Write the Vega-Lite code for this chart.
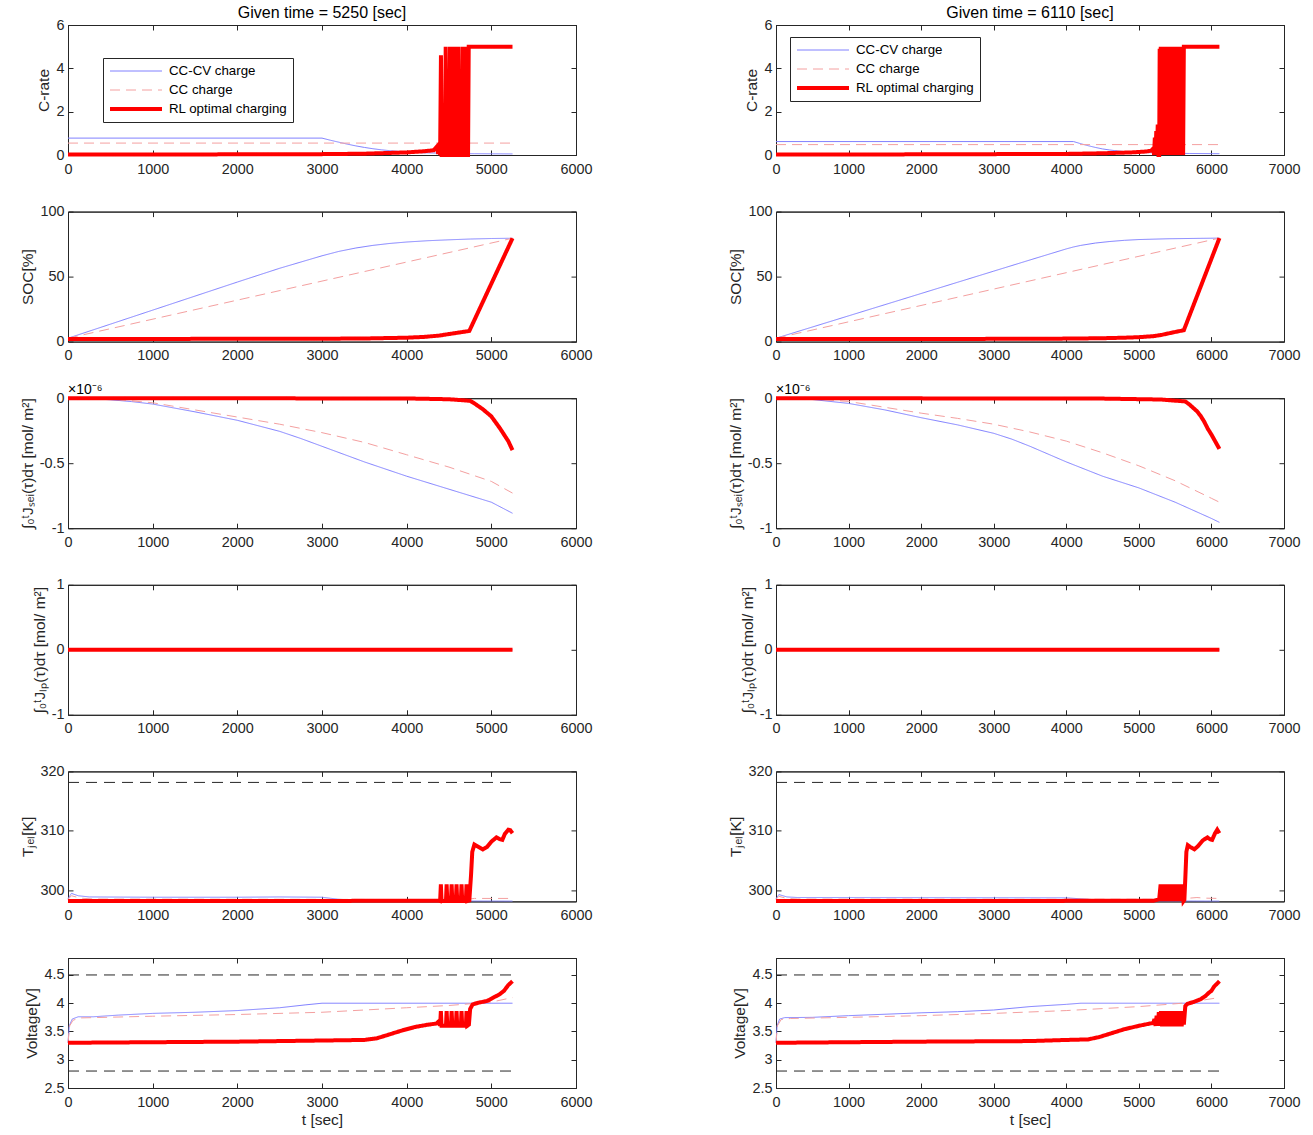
{
"$schema": "https://vega.github.io/schema/vega-lite/v6.json",
"padding": {"left": 19, "top": 4, "right": 5, "bottom": 5},
"background": "white",
"columns": 2,
"spacing": {"row": 56.6, "column": 200},
"bounds": "flush",
"datasets": {
"L_C": [
{"s":"cv","t":0,"v":0.78},{"s":"cv","t":3000,"v":0.78},{"s":"cv","t":3100,"v":0.68},{"s":"cv","t":3200,"v":0.59},{"s":"cv","t":3300,"v":0.5},{"s":"cv","t":3400,"v":0.42},{"s":"cv","t":3500,"v":0.35},{"s":"cv","t":3600,"v":0.29},{"s":"cv","t":3700,"v":0.24},{"s":"cv","t":3800,"v":0.2},{"s":"cv","t":3900,"v":0.17},{"s":"cv","t":4000,"v":0.14},{"s":"cv","t":4200,"v":0.1},{"s":"cv","t":4500,"v":0.075},{"s":"cv","t":4800,"v":0.06},{"s":"cv","t":5250,"v":0.05},
{"s":"cc","t":0,"v":0.55},{"s":"cc","t":5250,"v":0.55},
{"s":"rl","t":0,"v":0.02},{"s":"rl","t":2000,"v":0.03},{"s":"rl","t":3000,"v":0.04},{"s":"rl","t":3500,"v":0.06},{"s":"rl","t":4000,"v":0.12},{"s":"rl","t":4200,"v":0.17},{"s":"rl","t":4320,"v":0.22},{"s":"rl","t":4360,"v":0.4},{"s":"rl","t":4372,"v":0.05},{"s":"rl","t":4384,"v":0.35},{"s":"rl","t":4395,"v":0},{"s":"rl","t":4405,"v":4.6},{"s":"rl","t":4413,"v":0},{"s":"rl","t":4452,"v":0},{"s":"rl","t":4461,"v":5},{"s":"rl","t":4469,"v":0},{"s":"rl","t":4503,"v":0},{"s":"rl","t":4512,"v":5},{"s":"rl","t":4520,"v":0},{"s":"rl","t":4550,"v":0},{"s":"rl","t":4559,"v":5},{"s":"rl","t":4567,"v":0},{"s":"rl","t":4597,"v":0},{"s":"rl","t":4606,"v":5},{"s":"rl","t":4614,"v":0},{"s":"rl","t":4648,"v":0},{"s":"rl","t":4657,"v":5},{"s":"rl","t":4665,"v":0},{"s":"rl","t":4692,"v":0},{"s":"rl","t":4701,"v":5},{"s":"rl","t":4709,"v":0},{"s":"rl","t":4725,"v":0},{"s":"rl","t":4733,"v":5},{"s":"rl","t":5250,"v":5}
],
"R_C": [
{"s":"cv","t":0,"v":0.62},{"s":"cv","t":4100,"v":0.62},{"s":"cv","t":4200,"v":0.52},{"s":"cv","t":4300,"v":0.43},{"s":"cv","t":4400,"v":0.35},{"s":"cv","t":4500,"v":0.28},{"s":"cv","t":4600,"v":0.23},{"s":"cv","t":4700,"v":0.19},{"s":"cv","t":4800,"v":0.16},{"s":"cv","t":5000,"v":0.12},{"s":"cv","t":5300,"v":0.09},{"s":"cv","t":5700,"v":0.07},{"s":"cv","t":6110,"v":0.06},
{"s":"cc","t":0,"v":0.48},{"s":"cc","t":6110,"v":0.48},
{"s":"rl","t":0,"v":0.02},{"s":"rl","t":2000,"v":0.03},{"s":"rl","t":4000,"v":0.05},{"s":"rl","t":4500,"v":0.08},{"s":"rl","t":4900,"v":0.12},{"s":"rl","t":5100,"v":0.16},{"s":"rl","t":5170,"v":0.2},{"s":"rl","t":5200,"v":0.3},{"s":"rl","t":5210,"v":0},{"s":"rl","t":5220,"v":0.8},{"s":"rl","t":5230,"v":0},{"s":"rl","t":5240,"v":1.1},{"s":"rl","t":5250,"v":0},{"s":"rl","t":5260,"v":1.4},{"s":"rl","t":5270,"v":0},
{"s":"rl","t":5280,"v":0},{"s":"rl","t":5287,"v":4.9},{"s":"rl","t":5295,"v":0},{"s":"rl","t":5302,"v":5},{"s":"rl","t":5310,"v":0},{"s":"rl","t":5317,"v":5},{"s":"rl","t":5325,"v":0},{"s":"rl","t":5332,"v":5},{"s":"rl","t":5340,"v":0},{"s":"rl","t":5347,"v":5},{"s":"rl","t":5355,"v":0},{"s":"rl","t":5362,"v":5},{"s":"rl","t":5370,"v":0},{"s":"rl","t":5377,"v":5},{"s":"rl","t":5385,"v":0},{"s":"rl","t":5392,"v":5},{"s":"rl","t":5400,"v":0},{"s":"rl","t":5407,"v":5},{"s":"rl","t":5415,"v":0},{"s":"rl","t":5422,"v":5},{"s":"rl","t":5430,"v":0},{"s":"rl","t":5437,"v":5},{"s":"rl","t":5445,"v":0},{"s":"rl","t":5452,"v":5},{"s":"rl","t":5460,"v":0},{"s":"rl","t":5467,"v":5},{"s":"rl","t":5475,"v":0},{"s":"rl","t":5482,"v":5},{"s":"rl","t":5490,"v":0},{"s":"rl","t":5497,"v":5},{"s":"rl","t":5505,"v":0},{"s":"rl","t":5512,"v":5},{"s":"rl","t":5520,"v":0},{"s":"rl","t":5527,"v":5},{"s":"rl","t":5535,"v":0},{"s":"rl","t":5542,"v":5},{"s":"rl","t":5550,"v":0},{"s":"rl","t":5557,"v":5},{"s":"rl","t":5565,"v":0},{"s":"rl","t":5572,"v":5},{"s":"rl","t":5580,"v":0},{"s":"rl","t":5587,"v":5},{"s":"rl","t":5595,"v":0},{"s":"rl","t":5602,"v":5},{"s":"rl","t":5610,"v":0},{"s":"rl","t":5620,"v":5},{"s":"rl","t":6110,"v":5}
],
"L_S": [
{"s":"cv","t":0,"v":2.6},{"s":"cv","t":500,"v":13.4},{"s":"cv","t":1000,"v":24.2},{"s":"cv","t":1500,"v":35},{"s":"cv","t":2000,"v":45.8},{"s":"cv","t":2500,"v":56.4},{"s":"cv","t":3000,"v":66},{"s":"cv","t":3200,"v":69.4},{"s":"cv","t":3400,"v":72},{"s":"cv","t":3600,"v":74},{"s":"cv","t":3800,"v":75.5},{"s":"cv","t":4000,"v":76.6},{"s":"cv","t":4250,"v":77.6},{"s":"cv","t":4500,"v":78.3},{"s":"cv","t":4750,"v":78.9},{"s":"cv","t":5000,"v":79.3},{"s":"cv","t":5250,"v":79.5},
{"s":"cc","t":0,"v":2.6},{"s":"cc","t":5250,"v":79.5},
{"s":"rl","t":0,"v":2},{"s":"rl","t":3000,"v":2.2},{"s":"rl","t":3500,"v":2.4},{"s":"rl","t":4000,"v":3},{"s":"rl","t":4200,"v":3.6},{"s":"rl","t":4380,"v":4.6},{"s":"rl","t":4500,"v":5.8},{"s":"rl","t":4600,"v":6.8},{"s":"rl","t":4740,"v":8.2},{"s":"rl","t":5250,"v":79.5}
],
"R_S": [
{"s":"cv","t":0,"v":2.6},{"s":"cv","t":500,"v":11.2},{"s":"cv","t":1000,"v":19.8},{"s":"cv","t":1500,"v":28.4},{"s":"cv","t":2000,"v":37},{"s":"cv","t":2500,"v":45.6},{"s":"cv","t":3000,"v":54.2},{"s":"cv","t":3500,"v":62.8},{"s":"cv","t":4000,"v":71.3},{"s":"cv","t":4100,"v":72.8},{"s":"cv","t":4200,"v":74},{"s":"cv","t":4400,"v":75.8},{"s":"cv","t":4600,"v":77},{"s":"cv","t":4800,"v":77.9},{"s":"cv","t":5000,"v":78.5},{"s":"cv","t":5400,"v":79.1},{"s":"cv","t":5800,"v":79.4},{"s":"cv","t":6110,"v":79.6},
{"s":"cc","t":0,"v":2.6},{"s":"cc","t":6110,"v":79.6},
{"s":"rl","t":0,"v":2},{"s":"rl","t":3000,"v":2.1},{"s":"rl","t":4000,"v":2.3},{"s":"rl","t":4500,"v":2.6},{"s":"rl","t":4800,"v":3},{"s":"rl","t":5000,"v":3.4},{"s":"rl","t":5200,"v":4.2},{"s":"rl","t":5300,"v":5},{"s":"rl","t":5450,"v":6.8},{"s":"rl","t":5620,"v":8.8},{"s":"rl","t":6110,"v":79.6}
],
"L_J": [
{"s":"cv","t":0,"v":0},{"s":"cv","t":250,"v":-0.003},{"s":"cv","t":500,"v":-0.012},{"s":"cv","t":750,"v":-0.026},{"s":"cv","t":1000,"v":-0.045},{"s":"cv","t":1500,"v":-0.105},{"s":"cv","t":2000,"v":-0.17},{"s":"cv","t":2500,"v":-0.255},{"s":"cv","t":2750,"v":-0.31},{"s":"cv","t":3000,"v":-0.37},{"s":"cv","t":3500,"v":-0.49},{"s":"cv","t":4000,"v":-0.6},{"s":"cv","t":4500,"v":-0.7},{"s":"cv","t":5000,"v":-0.8},{"s":"cv","t":5250,"v":-0.885},
{"s":"cc","t":0,"v":0},{"s":"cc","t":500,"v":-0.006},{"s":"cc","t":1000,"v":-0.035},{"s":"cc","t":1500,"v":-0.09},{"s":"cc","t":2000,"v":-0.145},{"s":"cc","t":2500,"v":-0.2},{"s":"cc","t":3000,"v":-0.265},{"s":"cc","t":3500,"v":-0.34},{"s":"cc","t":4000,"v":-0.435},{"s":"cc","t":4500,"v":-0.53},{"s":"cc","t":5000,"v":-0.64},{"s":"cc","t":5250,"v":-0.73},
{"s":"rl","t":0,"v":0},{"s":"rl","t":4000,"v":-0.002},{"s":"rl","t":4500,"v":-0.008},{"s":"rl","t":4750,"v":-0.02},{"s":"rl","t":4800,"v":-0.04},{"s":"rl","t":4900,"v":-0.085},{"s":"rl","t":5000,"v":-0.14},{"s":"rl","t":5100,"v":-0.23},{"s":"rl","t":5200,"v":-0.33},{"s":"rl","t":5250,"v":-0.4}
],
"R_J": [
{"s":"cv","t":0,"v":0},{"s":"cv","t":500,"v":-0.01},{"s":"cv","t":1000,"v":-0.04},{"s":"cv","t":1500,"v":-0.09},{"s":"cv","t":2000,"v":-0.15},{"s":"cv","t":2500,"v":-0.205},{"s":"cv","t":3000,"v":-0.27},{"s":"cv","t":3250,"v":-0.315},{"s":"cv","t":3500,"v":-0.37},{"s":"cv","t":4000,"v":-0.49},{"s":"cv","t":4500,"v":-0.6},{"s":"cv","t":5000,"v":-0.69},{"s":"cv","t":5500,"v":-0.8},{"s":"cv","t":6000,"v":-0.925},{"s":"cv","t":6110,"v":-0.955},
{"s":"cc","t":0,"v":0},{"s":"cc","t":500,"v":-0.005},{"s":"cc","t":1000,"v":-0.025},{"s":"cc","t":1500,"v":-0.07},{"s":"cc","t":2000,"v":-0.115},{"s":"cc","t":2500,"v":-0.155},{"s":"cc","t":3000,"v":-0.2},{"s":"cc","t":3500,"v":-0.26},{"s":"cc","t":4000,"v":-0.33},{"s":"cc","t":4500,"v":-0.42},{"s":"cc","t":5000,"v":-0.52},{"s":"cc","t":5500,"v":-0.635},{"s":"cc","t":6000,"v":-0.77},{"s":"cc","t":6110,"v":-0.8},
{"s":"rl","t":0,"v":0},{"s":"rl","t":4500,"v":-0.003},{"s":"rl","t":5300,"v":-0.01},{"s":"rl","t":5640,"v":-0.025},{"s":"rl","t":5700,"v":-0.05},{"s":"rl","t":5800,"v":-0.1},{"s":"rl","t":5850,"v":-0.135},{"s":"rl","t":5900,"v":-0.18},{"s":"rl","t":5950,"v":-0.235},{"s":"rl","t":6000,"v":-0.28},{"s":"rl","t":6050,"v":-0.33},{"s":"rl","t":6110,"v":-0.39}
],
"L_P": [
{"s":"cv","t":0,"v":0},{"s":"cv","t":5250,"v":0},{"s":"cc","t":0,"v":0},{"s":"cc","t":5250,"v":0},{"s":"rl","t":0,"v":0},{"s":"rl","t":5250,"v":0}
],
"R_P": [
{"s":"cv","t":0,"v":0},{"s":"cv","t":6110,"v":0},{"s":"cc","t":0,"v":0},{"s":"cc","t":6110,"v":0},{"s":"rl","t":0,"v":0},{"s":"rl","t":6110,"v":0}
],
"L_T": [
{"s":"cv","t":0,"v":298.6},{"s":"cv","t":40,"v":299.5},{"s":"cv","t":120,"v":299.1},{"s":"cv","t":250,"v":298.9},{"s":"cv","t":1000,"v":298.85},{"s":"cv","t":2000,"v":298.85},{"s":"cv","t":2500,"v":298.9},{"s":"cv","t":3000,"v":298.85},{"s":"cv","t":3200,"v":298.5},{"s":"cv","t":3500,"v":298.3},{"s":"cv","t":4000,"v":298.25},{"s":"cv","t":5250,"v":298.2},
{"s":"cc","t":0,"v":298.5},{"s":"cc","t":40,"v":299.1},{"s":"cc","t":150,"v":298.7},{"s":"cc","t":300,"v":298.55},{"s":"cc","t":3000,"v":298.5},{"s":"cc","t":4000,"v":298.45},{"s":"cc","t":4700,"v":298.5},{"s":"cc","t":4800,"v":298.65},{"s":"cc","t":5250,"v":298.65},
{"s":"rl","t":0,"v":298.2},{"s":"rl","t":4380,"v":298.25},{"s":"rl","t":4395,"v":298.2},{"s":"rl","t":4404,"v":301},{"s":"rl","t":4412,"v":298.2},{"s":"rl","t":4464,"v":298.2},{"s":"rl","t":4472,"v":301},{"s":"rl","t":4480,"v":298.2},{"s":"rl","t":4523,"v":298.2},{"s":"rl","t":4531,"v":301},{"s":"rl","t":4539,"v":298.2},{"s":"rl","t":4581,"v":298.2},{"s":"rl","t":4589,"v":301},{"s":"rl","t":4597,"v":298.2},{"s":"rl","t":4640,"v":298.2},{"s":"rl","t":4648,"v":301},{"s":"rl","t":4656,"v":298.2},{"s":"rl","t":4699,"v":298.2},{"s":"rl","t":4707,"v":301},{"s":"rl","t":4715,"v":298.2},{"s":"rl","t":4740,"v":298.3},{"s":"rl","t":4760,"v":302.5},{"s":"rl","t":4775,"v":306.5},{"s":"rl","t":4800,"v":307.7},{"s":"rl","t":4850,"v":307.3},{"s":"rl","t":4900,"v":306.9},{"s":"rl","t":4950,"v":307.3},{"s":"rl","t":5000,"v":308.2},{"s":"rl","t":5060,"v":308.9},{"s":"rl","t":5100,"v":308.6},{"s":"rl","t":5130,"v":308.5},{"s":"rl","t":5160,"v":309.5},{"s":"rl","t":5200,"v":310.2},{"s":"rl","t":5225,"v":310.1},{"s":"rl","t":5250,"v":309.6}
],
"R_T": [
{"s":"cv","t":0,"v":298.6},{"s":"cv","t":40,"v":299.3},{"s":"cv","t":150,"v":298.9},{"s":"cv","t":300,"v":298.8},{"s":"cv","t":4000,"v":298.75},{"s":"cv","t":4300,"v":298.5},{"s":"cv","t":4600,"v":298.3},{"s":"cv","t":5000,"v":298.25},{"s":"cv","t":6110,"v":298.2},
{"s":"cc","t":0,"v":298.5},{"s":"cc","t":40,"v":299},{"s":"cc","t":150,"v":298.65},{"s":"cc","t":300,"v":298.55},{"s":"cc","t":5500,"v":298.5},{"s":"cc","t":5700,"v":298.7},{"s":"cc","t":5800,"v":298.8},{"s":"cc","t":5900,"v":298.7},{"s":"cc","t":6110,"v":298.65},
{"s":"rl","t":0,"v":298.2},{"s":"rl","t":5200,"v":298.25},{"s":"rl","t":5280,"v":298.5},{"s":"rl","t":5300,"v":301},{"s":"rl","t":5315,"v":298.2},{"s":"rl","t":5330,"v":301},{"s":"rl","t":5345,"v":298.2},{"s":"rl","t":5360,"v":301},{"s":"rl","t":5375,"v":298.2},{"s":"rl","t":5390,"v":301},{"s":"rl","t":5405,"v":298.2},{"s":"rl","t":5420,"v":301},{"s":"rl","t":5435,"v":298.2},{"s":"rl","t":5450,"v":301},{"s":"rl","t":5465,"v":298.2},{"s":"rl","t":5480,"v":301},{"s":"rl","t":5495,"v":298.2},{"s":"rl","t":5510,"v":301},{"s":"rl","t":5525,"v":298.2},{"s":"rl","t":5540,"v":301},{"s":"rl","t":5555,"v":298.2},{"s":"rl","t":5570,"v":301},{"s":"rl","t":5585,"v":298.2},{"s":"rl","t":5600,"v":301},{"s":"rl","t":5615,"v":298.2},{"s":"rl","t":5627,"v":298.4},{"s":"rl","t":5640,"v":302},{"s":"rl","t":5655,"v":306.5},{"s":"rl","t":5675,"v":307.6},{"s":"rl","t":5720,"v":307.2},{"s":"rl","t":5765,"v":306.9},{"s":"rl","t":5820,"v":307.5},{"s":"rl","t":5880,"v":308.4},{"s":"rl","t":5945,"v":308.9},{"s":"rl","t":5980,"v":308.6},{"s":"rl","t":6010,"v":308.5},{"s":"rl","t":6050,"v":309.6},{"s":"rl","t":6080,"v":310.2},{"s":"rl","t":6110,"v":309.6}
],
"L_V": [
{"s":"cv","t":0,"v":3.3},{"s":"cv","t":15,"v":3.6},{"s":"cv","t":50,"v":3.72},{"s":"cv","t":120,"v":3.76},{"s":"cv","t":300,"v":3.76},{"s":"cv","t":600,"v":3.79},{"s":"cv","t":1000,"v":3.82},{"s":"cv","t":1500,"v":3.84},{"s":"cv","t":2000,"v":3.87},{"s":"cv","t":2500,"v":3.92},{"s":"cv","t":2800,"v":3.97},{"s":"cv","t":3000,"v":4.0},{"s":"cv","t":5250,"v":4.0},
{"s":"cc","t":0,"v":3.3},{"s":"cc","t":20,"v":3.6},{"s":"cc","t":60,"v":3.7},{"s":"cc","t":150,"v":3.74},{"s":"cc","t":1000,"v":3.77},{"s":"cc","t":2000,"v":3.8},{"s":"cc","t":3000,"v":3.84},{"s":"cc","t":4000,"v":3.92},{"s":"cc","t":4500,"v":3.96},{"s":"cc","t":5000,"v":4.02},{"s":"cc","t":5250,"v":4.1},
{"s":"rl","t":0,"v":3.3},{"s":"rl","t":1000,"v":3.31},{"s":"rl","t":2000,"v":3.32},{"s":"rl","t":3000,"v":3.34},{"s":"rl","t":3500,"v":3.35},{"s":"rl","t":3650,"v":3.38},{"s":"rl","t":3800,"v":3.45},{"s":"rl","t":3950,"v":3.52},{"s":"rl","t":4100,"v":3.58},{"s":"rl","t":4250,"v":3.62},{"s":"rl","t":4350,"v":3.64},{"s":"rl","t":4380,"v":3.68},{"s":"rl","t":4395,"v":3.6},{"s":"rl","t":4404,"v":3.86},{"s":"rl","t":4412,"v":3.6},{"s":"rl","t":4464,"v":3.6},{"s":"rl","t":4472,"v":3.86},{"s":"rl","t":4480,"v":3.6},{"s":"rl","t":4523,"v":3.6},{"s":"rl","t":4531,"v":3.86},{"s":"rl","t":4539,"v":3.6},{"s":"rl","t":4581,"v":3.6},{"s":"rl","t":4589,"v":3.86},{"s":"rl","t":4597,"v":3.6},{"s":"rl","t":4640,"v":3.6},{"s":"rl","t":4648,"v":3.86},{"s":"rl","t":4656,"v":3.6},{"s":"rl","t":4699,"v":3.6},{"s":"rl","t":4707,"v":3.86},{"s":"rl","t":4715,"v":3.6},{"s":"rl","t":4735,"v":3.62},{"s":"rl","t":4750,"v":3.9},{"s":"rl","t":4780,"v":3.98},{"s":"rl","t":4850,"v":4.01},{"s":"rl","t":4950,"v":4.04},{"s":"rl","t":5000,"v":4.08},{"s":"rl","t":5050,"v":4.12},{"s":"rl","t":5100,"v":4.16},{"s":"rl","t":5150,"v":4.22},{"s":"rl","t":5200,"v":4.32},{"s":"rl","t":5250,"v":4.39}
],
"R_V": [
{"s":"cv","t":0,"v":3.3},{"s":"cv","t":15,"v":3.6},{"s":"cv","t":50,"v":3.72},{"s":"cv","t":120,"v":3.745},{"s":"cv","t":500,"v":3.75},{"s":"cv","t":1000,"v":3.78},{"s":"cv","t":2000,"v":3.83},{"s":"cv","t":2500,"v":3.85},{"s":"cv","t":3000,"v":3.88},{"s":"cv","t":3500,"v":3.94},{"s":"cv","t":4000,"v":3.98},{"s":"cv","t":4200,"v":4.0},{"s":"cv","t":6110,"v":4.0},
{"s":"cc","t":0,"v":3.3},{"s":"cc","t":20,"v":3.6},{"s":"cc","t":70,"v":3.71},{"s":"cc","t":200,"v":3.73},{"s":"cc","t":1000,"v":3.75},{"s":"cc","t":2000,"v":3.78},{"s":"cc","t":3000,"v":3.82},{"s":"cc","t":4000,"v":3.87},{"s":"cc","t":5000,"v":3.94},{"s":"cc","t":5600,"v":4.0},{"s":"cc","t":6110,"v":4.1},
{"s":"rl","t":0,"v":3.3},{"s":"rl","t":2000,"v":3.32},{"s":"rl","t":3500,"v":3.33},{"s":"rl","t":4000,"v":3.35},{"s":"rl","t":4300,"v":3.36},{"s":"rl","t":4450,"v":3.4},{"s":"rl","t":4600,"v":3.46},{"s":"rl","t":4800,"v":3.54},{"s":"rl","t":5000,"v":3.6},{"s":"rl","t":5150,"v":3.64},{"s":"rl","t":5200,"v":3.65},{"s":"rl","t":5215,"v":3.72},{"s":"rl","t":5230,"v":3.6},{"s":"rl","t":5245,"v":3.78},{"s":"rl","t":5260,"v":3.6},{"s":"rl","t":5275,"v":3.84},{"s":"rl","t":5290,"v":3.6},{"s":"rl","t":5305,"v":3.86},{"s":"rl","t":5320,"v":3.59},{"s":"rl","t":5335,"v":3.86},{"s":"rl","t":5350,"v":3.59},{"s":"rl","t":5365,"v":3.86},{"s":"rl","t":5380,"v":3.59},{"s":"rl","t":5395,"v":3.86},{"s":"rl","t":5410,"v":3.59},{"s":"rl","t":5425,"v":3.86},{"s":"rl","t":5440,"v":3.59},{"s":"rl","t":5455,"v":3.86},{"s":"rl","t":5470,"v":3.59},{"s":"rl","t":5485,"v":3.86},{"s":"rl","t":5500,"v":3.59},{"s":"rl","t":5515,"v":3.86},{"s":"rl","t":5530,"v":3.59},{"s":"rl","t":5545,"v":3.86},{"s":"rl","t":5560,"v":3.59},{"s":"rl","t":5575,"v":3.86},{"s":"rl","t":5590,"v":3.59},{"s":"rl","t":5605,"v":3.86},{"s":"rl","t":5620,"v":3.62},{"s":"rl","t":5640,"v":3.95},{"s":"rl","t":5670,"v":3.99},{"s":"rl","t":5750,"v":4.02},{"s":"rl","t":5850,"v":4.07},{"s":"rl","t":5920,"v":4.13},{"s":"rl","t":5960,"v":4.18},{"s":"rl","t":6000,"v":4.22},{"s":"rl","t":6040,"v":4.3},{"s":"rl","t":6080,"v":4.35},{"s":"rl","t":6110,"v":4.39}
],
"L_Tlim": [{"y":318.15,"t0":0,"t1":5250}],
"R_Tlim": [{"y":318.15,"t0":0,"t1":6110}],
"L_Vlim": [{"y":4.5,"t0":0,"t1":5250},{"y":2.8,"t0":0,"t1":5250}],
"R_Vlim": [{"y":4.5,"t0":0,"t1":6110},{"y":2.8,"t0":0,"t1":6110}]
},
"concat": [
{"width":508,"height":130,"title":{"text":"Given time = 5250 [sec]"},"resolve":{"axis":{"x":"independent","y":"independent"}},"layer":[
 {"data":{"name":"L_C"},"mark":"line","encoding":{
  "x":{"field":"t","type":"quantitative","title":null,"scale":{"domain":[0,6000],"nice":false},"axis":{"values":[0,1000,2000,3000,4000,5000,6000]}},
  "y":{"field":"v","type":"quantitative","title":"C-rate","scale":{"domain":[0,6],"nice":false},"axis":{"values":[0,2,4,6]}},
  "color":{"field":"s","type":"nominal","scale":{"domain":["cv","cc","rl"],"range":["#8080ff","#f4a0a0","#ff0000"]},"legend":{"orient":"none","legendX":35,"legendY":33,"labelExpr":"datum.label == 'cv' ? 'CC-CV charge' : datum.label == 'cc' ? 'CC charge' : 'RL optimal charging'"}},
  "strokeDash":{"field":"s","type":"nominal","scale":{"domain":["cv","cc","rl"],"range":[[1,0],[10,6],[1,0]]},"legend":{"orient":"none","legendX":35,"legendY":33,"labelExpr":"datum.label == 'cv' ? 'CC-CV charge' : datum.label == 'cc' ? 'CC charge' : 'RL optimal charging'"}},
  "strokeWidth":{"field":"s","type":"nominal","scale":{"type":"ordinal","domain":["cv","cc","rl"],"range":[1,1,4]},"legend":{"orient":"none","legendX":35,"legendY":33,"labelExpr":"datum.label == 'cv' ? 'CC-CV charge' : datum.label == 'cc' ? 'CC charge' : 'RL optimal charging'"}}
 }},
 {"data":{"name":"L_C"},"mark":{"type":"point","opacity":0},"encoding":{
  "x":{"field":"t","type":"quantitative","title":null,"axis":{"orient":"top","labels":false,"values":[0,1000,2000,3000,4000,5000,6000]}},
  "y":{"field":"v","type":"quantitative","title":null,"axis":{"orient":"right","labels":false,"values":[0,2,4,6]}}}}
]},
{"width":508,"height":130,"title":{"text":"Given time = 6110 [sec]"},"resolve":{"axis":{"x":"independent","y":"independent"}},"layer":[
 {"data":{"name":"R_C"},"mark":"line","encoding":{
  "x":{"field":"t","type":"quantitative","title":null,"scale":{"domain":[0,7000],"nice":false},"axis":{"values":[0,1000,2000,3000,4000,5000,6000,7000]}},
  "y":{"field":"v","type":"quantitative","title":"C-rate","scale":{"domain":[0,6],"nice":false},"axis":{"values":[0,2,4,6]}},
  "color":{"field":"s","type":"nominal","scale":{"domain":["cv","cc","rl"],"range":["#8080ff","#f4a0a0","#ff0000"]},"legend":{"orient":"none","legendX":14,"legendY":12,"labelExpr":"datum.label == 'cv' ? 'CC-CV charge' : datum.label == 'cc' ? 'CC charge' : 'RL optimal charging'"}},
  "strokeDash":{"field":"s","type":"nominal","scale":{"domain":["cv","cc","rl"],"range":[[1,0],[10,6],[1,0]]},"legend":{"orient":"none","legendX":14,"legendY":12,"labelExpr":"datum.label == 'cv' ? 'CC-CV charge' : datum.label == 'cc' ? 'CC charge' : 'RL optimal charging'"}},
  "strokeWidth":{"field":"s","type":"nominal","scale":{"type":"ordinal","domain":["cv","cc","rl"],"range":[1,1,4]},"legend":{"orient":"none","legendX":14,"legendY":12,"labelExpr":"datum.label == 'cv' ? 'CC-CV charge' : datum.label == 'cc' ? 'CC charge' : 'RL optimal charging'"}}
 }},
 {"data":{"name":"R_C"},"mark":{"type":"point","opacity":0},"encoding":{
  "x":{"field":"t","type":"quantitative","title":null,"axis":{"orient":"top","labels":false,"values":[0,1000,2000,3000,4000,5000,6000,7000]}},
  "y":{"field":"v","type":"quantitative","title":null,"axis":{"orient":"right","labels":false,"values":[0,2,4,6]}}}}
]},
{"width":508,"height":130,"resolve":{"axis":{"x":"independent","y":"independent"}},"layer":[
 {"data":{"name":"L_S"},"mark":"line","encoding":{
  "x":{"field":"t","type":"quantitative","title":null,"scale":{"domain":[0,6000],"nice":false},"axis":{"values":[0,1000,2000,3000,4000,5000,6000]}},
  "y":{"field":"v","type":"quantitative","title":"SOC[%]","scale":{"domain":[0,100],"nice":false},"axis":{"values":[0,50,100]}},
  "color":{"field":"s","type":"nominal","scale":{"domain":["cv","cc","rl"],"range":["#8080ff","#f4a0a0","#ff0000"]},"legend":null},
  "strokeDash":{"field":"s","type":"nominal","scale":{"domain":["cv","cc","rl"],"range":[[1,0],[10,6],[1,0]]},"legend":null},
  "strokeWidth":{"field":"s","type":"nominal","scale":{"type":"ordinal","domain":["cv","cc","rl"],"range":[1,1,4]},"legend":null}
 }},
 {"data":{"name":"L_S"},"mark":{"type":"point","opacity":0},"encoding":{
  "x":{"field":"t","type":"quantitative","title":null,"axis":{"orient":"top","labels":false,"values":[0,1000,2000,3000,4000,5000,6000]}},
  "y":{"field":"v","type":"quantitative","title":null,"axis":{"orient":"right","labels":false,"values":[0,50,100]}}}}
]},
{"width":508,"height":130,"resolve":{"axis":{"x":"independent","y":"independent"}},"layer":[
 {"data":{"name":"R_S"},"mark":"line","encoding":{
  "x":{"field":"t","type":"quantitative","title":null,"scale":{"domain":[0,7000],"nice":false},"axis":{"values":[0,1000,2000,3000,4000,5000,6000,7000]}},
  "y":{"field":"v","type":"quantitative","title":"SOC[%]","scale":{"domain":[0,100],"nice":false},"axis":{"values":[0,50,100]}},
  "color":{"field":"s","type":"nominal","scale":{"domain":["cv","cc","rl"],"range":["#8080ff","#f4a0a0","#ff0000"]},"legend":null},
  "strokeDash":{"field":"s","type":"nominal","scale":{"domain":["cv","cc","rl"],"range":[[1,0],[10,6],[1,0]]},"legend":null},
  "strokeWidth":{"field":"s","type":"nominal","scale":{"type":"ordinal","domain":["cv","cc","rl"],"range":[1,1,4]},"legend":null}
 }},
 {"data":{"name":"R_S"},"mark":{"type":"point","opacity":0},"encoding":{
  "x":{"field":"t","type":"quantitative","title":null,"axis":{"orient":"top","labels":false,"values":[0,1000,2000,3000,4000,5000,6000,7000]}},
  "y":{"field":"v","type":"quantitative","title":null,"axis":{"orient":"right","labels":false,"values":[0,50,100]}}}}
]},
{"width":508,"height":130,"title":{"text":"×10⁻⁶","anchor":"start","frame":"group","fontSize":14,"offset":-7},"resolve":{"axis":{"x":"independent","y":"independent"}},"layer":[
 {"data":{"name":"L_J"},"mark":"line","encoding":{
  "x":{"field":"t","type":"quantitative","title":null,"scale":{"domain":[0,6000],"nice":false},"axis":{"values":[0,1000,2000,3000,4000,5000,6000]}},
  "y":{"field":"v","type":"quantitative","title":"∫₀ᵗJₛₑᵢ(τ)dτ [mol/ m²]","scale":{"domain":[-1,0],"nice":false},"axis":{"values":[-1,-0.5,0]}},
  "color":{"field":"s","type":"nominal","scale":{"domain":["cv","cc","rl"],"range":["#8080ff","#f4a0a0","#ff0000"]},"legend":null},
  "strokeDash":{"field":"s","type":"nominal","scale":{"domain":["cv","cc","rl"],"range":[[1,0],[10,6],[1,0]]},"legend":null},
  "strokeWidth":{"field":"s","type":"nominal","scale":{"type":"ordinal","domain":["cv","cc","rl"],"range":[1,1,4]},"legend":null}
 }},
 {"data":{"name":"L_J"},"mark":{"type":"point","opacity":0},"encoding":{
  "x":{"field":"t","type":"quantitative","title":null,"axis":{"orient":"top","labels":false,"values":[0,1000,2000,3000,4000,5000,6000]}},
  "y":{"field":"v","type":"quantitative","title":null,"axis":{"orient":"right","labels":false,"values":[-1,-0.5,0]}}}}
]},
{"width":508,"height":130,"title":{"text":"×10⁻⁶","anchor":"start","frame":"group","fontSize":14,"offset":-7},"resolve":{"axis":{"x":"independent","y":"independent"}},"layer":[
 {"data":{"name":"R_J"},"mark":"line","encoding":{
  "x":{"field":"t","type":"quantitative","title":null,"scale":{"domain":[0,7000],"nice":false},"axis":{"values":[0,1000,2000,3000,4000,5000,6000,7000]}},
  "y":{"field":"v","type":"quantitative","title":"∫₀ᵗJₛₑᵢ(τ)dτ [mol/ m²]","scale":{"domain":[-1,0],"nice":false},"axis":{"values":[-1,-0.5,0]}},
  "color":{"field":"s","type":"nominal","scale":{"domain":["cv","cc","rl"],"range":["#8080ff","#f4a0a0","#ff0000"]},"legend":null},
  "strokeDash":{"field":"s","type":"nominal","scale":{"domain":["cv","cc","rl"],"range":[[1,0],[10,6],[1,0]]},"legend":null},
  "strokeWidth":{"field":"s","type":"nominal","scale":{"type":"ordinal","domain":["cv","cc","rl"],"range":[1,1,4]},"legend":null}
 }},
 {"data":{"name":"R_J"},"mark":{"type":"point","opacity":0},"encoding":{
  "x":{"field":"t","type":"quantitative","title":null,"axis":{"orient":"top","labels":false,"values":[0,1000,2000,3000,4000,5000,6000,7000]}},
  "y":{"field":"v","type":"quantitative","title":null,"axis":{"orient":"right","labels":false,"values":[-1,-0.5,0]}}}}
]},
{"width":508,"height":130,"resolve":{"axis":{"x":"independent","y":"independent"}},"layer":[
 {"data":{"name":"L_P"},"mark":"line","encoding":{
  "x":{"field":"t","type":"quantitative","title":null,"scale":{"domain":[0,6000],"nice":false},"axis":{"values":[0,1000,2000,3000,4000,5000,6000]}},
  "y":{"field":"v","type":"quantitative","title":"∫₀ᵗJₗₚ(τ)dτ [mol/ m²]","scale":{"domain":[-1,1],"nice":false},"axis":{"values":[-1,0,1]}},
  "color":{"field":"s","type":"nominal","scale":{"domain":["cv","cc","rl"],"range":["#8080ff","#f4a0a0","#ff0000"]},"legend":null},
  "strokeDash":{"field":"s","type":"nominal","scale":{"domain":["cv","cc","rl"],"range":[[1,0],[10,6],[1,0]]},"legend":null},
  "strokeWidth":{"field":"s","type":"nominal","scale":{"type":"ordinal","domain":["cv","cc","rl"],"range":[1,1,4]},"legend":null}
 }},
 {"data":{"name":"L_P"},"mark":{"type":"point","opacity":0},"encoding":{
  "x":{"field":"t","type":"quantitative","title":null,"axis":{"orient":"top","labels":false,"values":[0,1000,2000,3000,4000,5000,6000]}},
  "y":{"field":"v","type":"quantitative","title":null,"axis":{"orient":"right","labels":false,"values":[-1,0,1]}}}}
]},
{"width":508,"height":130,"resolve":{"axis":{"x":"independent","y":"independent"}},"layer":[
 {"data":{"name":"R_P"},"mark":"line","encoding":{
  "x":{"field":"t","type":"quantitative","title":null,"scale":{"domain":[0,7000],"nice":false},"axis":{"values":[0,1000,2000,3000,4000,5000,6000,7000]}},
  "y":{"field":"v","type":"quantitative","title":"∫₀ᵗJₗₚ(τ)dτ [mol/ m²]","scale":{"domain":[-1,1],"nice":false},"axis":{"values":[-1,0,1]}},
  "color":{"field":"s","type":"nominal","scale":{"domain":["cv","cc","rl"],"range":["#8080ff","#f4a0a0","#ff0000"]},"legend":null},
  "strokeDash":{"field":"s","type":"nominal","scale":{"domain":["cv","cc","rl"],"range":[[1,0],[10,6],[1,0]]},"legend":null},
  "strokeWidth":{"field":"s","type":"nominal","scale":{"type":"ordinal","domain":["cv","cc","rl"],"range":[1,1,4]},"legend":null}
 }},
 {"data":{"name":"R_P"},"mark":{"type":"point","opacity":0},"encoding":{
  "x":{"field":"t","type":"quantitative","title":null,"axis":{"orient":"top","labels":false,"values":[0,1000,2000,3000,4000,5000,6000,7000]}},
  "y":{"field":"v","type":"quantitative","title":null,"axis":{"orient":"right","labels":false,"values":[-1,0,1]}}}}
]},
{"width":508,"height":130,"resolve":{"axis":{"x":"independent","y":"independent"}},"layer":[
 {"data":{"name":"L_T"},"mark":"line","encoding":{
  "x":{"field":"t","type":"quantitative","title":null,"scale":{"domain":[0,6000],"nice":false},"axis":{"values":[0,1000,2000,3000,4000,5000,6000]}},
  "y":{"field":"v","type":"quantitative","title":"Tⱼₑₗ[K]","scale":{"domain":[298.15,320],"nice":false,"zero":false},"axis":{"values":[300,310,320]}},
  "color":{"field":"s","type":"nominal","scale":{"domain":["cv","cc","rl"],"range":["#8080ff","#f4a0a0","#ff0000"]},"legend":null},
  "strokeDash":{"field":"s","type":"nominal","scale":{"domain":["cv","cc","rl"],"range":[[1,0],[10,6],[1,0]]},"legend":null},
  "strokeWidth":{"field":"s","type":"nominal","scale":{"type":"ordinal","domain":["cv","cc","rl"],"range":[1,1,4]},"legend":null}
 }},
 {"data":{"name":"L_Tlim"},"mark":{"type":"rule","color":"#262626","strokeDash":[11,7],"strokeWidth":1},"encoding":{
  "x":{"field":"t0","type":"quantitative","title":null,"axis":{"orient":"top","labels":false,"values":[0,1000,2000,3000,4000,5000,6000]}},"x2":{"field":"t1"},
  "y":{"field":"y","type":"quantitative","title":null,"axis":{"orient":"right","labels":false,"values":[300,310,320]}}}}
]},
{"width":508,"height":130,"resolve":{"axis":{"x":"independent","y":"independent"}},"layer":[
 {"data":{"name":"R_T"},"mark":"line","encoding":{
  "x":{"field":"t","type":"quantitative","title":null,"scale":{"domain":[0,7000],"nice":false},"axis":{"values":[0,1000,2000,3000,4000,5000,6000,7000]}},
  "y":{"field":"v","type":"quantitative","title":"Tⱼₑₗ[K]","scale":{"domain":[298.15,320],"nice":false,"zero":false},"axis":{"values":[300,310,320]}},
  "color":{"field":"s","type":"nominal","scale":{"domain":["cv","cc","rl"],"range":["#8080ff","#f4a0a0","#ff0000"]},"legend":null},
  "strokeDash":{"field":"s","type":"nominal","scale":{"domain":["cv","cc","rl"],"range":[[1,0],[10,6],[1,0]]},"legend":null},
  "strokeWidth":{"field":"s","type":"nominal","scale":{"type":"ordinal","domain":["cv","cc","rl"],"range":[1,1,4]},"legend":null}
 }},
 {"data":{"name":"R_Tlim"},"mark":{"type":"rule","color":"#262626","strokeDash":[11,7],"strokeWidth":1},"encoding":{
  "x":{"field":"t0","type":"quantitative","title":null,"axis":{"orient":"top","labels":false,"values":[0,1000,2000,3000,4000,5000,6000,7000]}},"x2":{"field":"t1"},
  "y":{"field":"y","type":"quantitative","title":null,"axis":{"orient":"right","labels":false,"values":[300,310,320]}}}}
]},
{"width":508,"height":130,"resolve":{"axis":{"x":"independent","y":"independent"}},"layer":[
 {"data":{"name":"L_V"},"mark":"line","encoding":{
  "x":{"field":"t","type":"quantitative","title":"t [sec]","scale":{"domain":[0,6000],"nice":false},"axis":{"values":[0,1000,2000,3000,4000,5000,6000]}},
  "y":{"field":"v","type":"quantitative","title":"Voltage[V]","scale":{"domain":[2.5,4.8],"nice":false,"zero":false},"axis":{"values":[2.5,3,3.5,4,4.5],"labelOverlap":false}},
  "color":{"field":"s","type":"nominal","scale":{"domain":["cv","cc","rl"],"range":["#8080ff","#f4a0a0","#ff0000"]},"legend":null},
  "strokeDash":{"field":"s","type":"nominal","scale":{"domain":["cv","cc","rl"],"range":[[1,0],[10,6],[1,0]]},"legend":null},
  "strokeWidth":{"field":"s","type":"nominal","scale":{"type":"ordinal","domain":["cv","cc","rl"],"range":[1,1,4]},"legend":null}
 }},
 {"data":{"name":"L_Vlim"},"mark":{"type":"rule","color":"#262626","strokeDash":[11,7],"strokeWidth":1},"encoding":{
  "x":{"field":"t0","type":"quantitative","title":null,"axis":{"orient":"top","labels":false,"values":[0,1000,2000,3000,4000,5000,6000]}},"x2":{"field":"t1"},
  "y":{"field":"y","type":"quantitative","title":null,"axis":{"orient":"right","labels":false,"values":[2.5,3,3.5,4,4.5]}}}}
]},
{"width":508,"height":130,"resolve":{"axis":{"x":"independent","y":"independent"}},"layer":[
 {"data":{"name":"R_V"},"mark":"line","encoding":{
  "x":{"field":"t","type":"quantitative","title":"t [sec]","scale":{"domain":[0,7000],"nice":false},"axis":{"values":[0,1000,2000,3000,4000,5000,6000,7000]}},
  "y":{"field":"v","type":"quantitative","title":"Voltage[V]","scale":{"domain":[2.5,4.8],"nice":false,"zero":false},"axis":{"values":[2.5,3,3.5,4,4.5],"labelOverlap":false}},
  "color":{"field":"s","type":"nominal","scale":{"domain":["cv","cc","rl"],"range":["#8080ff","#f4a0a0","#ff0000"]},"legend":null},
  "strokeDash":{"field":"s","type":"nominal","scale":{"domain":["cv","cc","rl"],"range":[[1,0],[10,6],[1,0]]},"legend":null},
  "strokeWidth":{"field":"s","type":"nominal","scale":{"type":"ordinal","domain":["cv","cc","rl"],"range":[1,1,4]},"legend":null}
 }},
 {"data":{"name":"R_Vlim"},"mark":{"type":"rule","color":"#262626","strokeDash":[11,7],"strokeWidth":1},"encoding":{
  "x":{"field":"t0","type":"quantitative","title":null,"axis":{"orient":"top","labels":false,"values":[0,1000,2000,3000,4000,5000,6000,7000]}},"x2":{"field":"t1"},
  "y":{"field":"y","type":"quantitative","title":null,"axis":{"orient":"right","labels":false,"values":[2.5,3,3.5,4,4.5]}}}}
]}
],
"resolve": {
 "scale": {"color":"independent","strokeDash":"independent","strokeWidth":"independent"},
 "legend": {"color":"independent","strokeDash":"independent","strokeWidth":"independent"}
},
"config": {
 "font": "Liberation Sans",
 "view": {"stroke": "#262626", "strokeWidth": 1},
 "title": {"fontSize": 16, "fontWeight": "normal", "color": "#000000", "offset": -4, "font": "Liberation Sans"},
 "axis": {"grid": false, "domainColor": "#262626", "tickColor": "#262626", "labelColor": "#262626", "titleColor": "#262626",
  "labelFont": "Liberation Sans", "titleFont": "Liberation Sans", "labelFontSize": 14.4, "titleFontSize": 15.5, "titleFontWeight": "normal",
  "tickSize": -5, "labelPadding": 12, "titlePadding": 4, "labelFlush": false, "labelOverlap": false, "labelExpr": "datum.value + ''"},
 "axisY": {"labelPadding": 9},
 "legend": {"title": null, "symbolType": "stroke", "symbolSize": 2704, "clipHeight": 16, "rowPadding": 3, "labelFontSize": 13.3, "labelColor": "#000000", "labelFont": "Liberation Sans",
  "strokeColor": "#262626", "fillColor": "#ffffff", "padding": 5, "labelOffset": 5}
}
}
